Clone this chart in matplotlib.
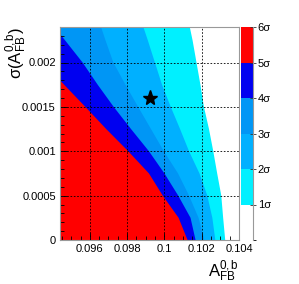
import matplotlib
matplotlib.use("Agg")
import matplotlib.pyplot as plt
import numpy as np
from matplotlib.colors import ListedColormap, BoundaryNorm
from matplotlib.ticker import MultipleLocator, FuncFormatter
import matplotlib as mpl

plt.rcParams['font.family'] = ['Liberation Sans', 'DejaVu Sans']
plt.rcParams['mathtext.fontset'] = 'custom'
plt.rcParams['mathtext.rm'] = 'Liberation Sans'
plt.rcParams['mathtext.it'] = 'Liberation Sans:italic'
plt.rcParams['mathtext.bf'] = 'Liberation Sans:bold'

# sigma(A_FB) values at which contour boundaries were read
sigma_vals = [0.0, 0.00025, 0.0005, 0.00075, 0.001, 0.00125, 0.0015,
              0.00175, 0.002, 0.00225, 0.0024]
# A_FB position of each n-sigma boundary (region to the left exceeds n sigma)
a_1sig = [0.10326, 0.10315, 0.10305, 0.10283, 0.10262, 0.10239, 0.10212,
          0.10193, 0.10172, 0.10151, 0.10136]
a_2sig = [0.10273, 0.10257, 0.10230, 0.10188, 0.10132, 0.10084, 0.10034,
          0.09987, 0.09949, 0.09911, 0.09887]
a_3sig = [0.10214, 0.10183, 0.10132, 0.10073, 0.09997, 0.09928, 0.09859,
          0.09791, 0.09726, 0.09684, 0.09660]
a_4sig = [0.10167, 0.10140, 0.10074, 0.10000, 0.09917, 0.09821, 0.09728,
          0.09642, 0.09561, 0.09467, 0.09411]
a_5sig = [0.10124, 0.10076, 0.09991, 0.09917, 0.09806, 0.09688, 0.09576,
          0.09462, 0.09349, 0.09200, 0.09100]

star_a = [0.0992]
star_sigma = [0.0016]

levels = [0, 1, 2, 3, 4, 5, 6]
level_labels = ['1σ', '2σ', '3σ', '4σ', '5σ', '6σ']
band_colors = ['#FFFFFF', '#00F0FF', '#00B0FF', '#0096F5', '#0000F0', '#FF0000']

xlim = (0.0944, 0.104)
ylim = (0.0, 0.0024)

fig = plt.figure(figsize=(2.99, 2.84), dpi=100)
ax = fig.add_axes([60/299, 44/284, 179/299, 213/284])

boundaries = [a_1sig, a_2sig, a_3sig, a_4sig, a_5sig]
for b, col in zip(boundaries, band_colors[1:]):
    ax.fill_betweenx(sigma_vals, xlim[0] - 0.01, b, color=col, lw=0, zorder=1)

ax.plot(star_a, star_sigma, marker='*', color='black', ms=11, ls='none', zorder=5)

ax.set_xlim(*xlim)
ax.set_ylim(*ylim)
ax.xaxis.set_major_locator(MultipleLocator(0.002))
ax.xaxis.set_minor_locator(MultipleLocator(0.0005))
ax.yaxis.set_major_locator(MultipleLocator(0.0005))
ax.yaxis.set_minor_locator(MultipleLocator(0.0001))
fmt = FuncFormatter(lambda v, p: '%g' % round(v, 6))
ax.xaxis.set_major_formatter(fmt)
ax.yaxis.set_major_formatter(fmt)
ax.grid(True, which='major', color='black', lw=0.6, ls=(0, (2, 2)), zorder=3)
ax.set_axisbelow(False)
ax.tick_params(which='both', direction='in', top=False, right=False,
               labelsize=8, color='black', pad=3)
ax.tick_params(which='major', length=5, width=0.6)
ax.tick_params(which='minor', length=3, width=0.6)
for s in ax.spines.values():
    s.set_color('#999999')
    s.set_linewidth(0.8)
    s.set_zorder(4)

ax.set_xlabel(r'$\mathregular{A_{FB}^{0,b}}$', fontsize=12, loc='right', labelpad=3)
ax.set_ylabel(r'σ($\mathregular{A_{FB}^{0,b}}$)', fontsize=12, loc='top')
ax.yaxis.set_label_coords(-0.175, 1.0)

# colour scale
cax = fig.add_axes([241/299, 44/284, 12/299, 213/284])
cmap = ListedColormap(band_colors)
norm = BoundaryNorm(levels, cmap.N)
cb = mpl.colorbar.ColorbarBase(cax, cmap=cmap, norm=norm, ticks=levels[1:],
                               orientation='vertical')
cb.outline.set_visible(False)
cb.set_ticklabels(level_labels)
cax.tick_params(axis='y', direction='inout', length=5, width=0.6, color='#333333',
                labelsize=8, pad=1)
cax.spines['right'].set_visible(True)
cax.spines['right'].set_color('#999999')

fig.savefig('out.png', dpi=100)
